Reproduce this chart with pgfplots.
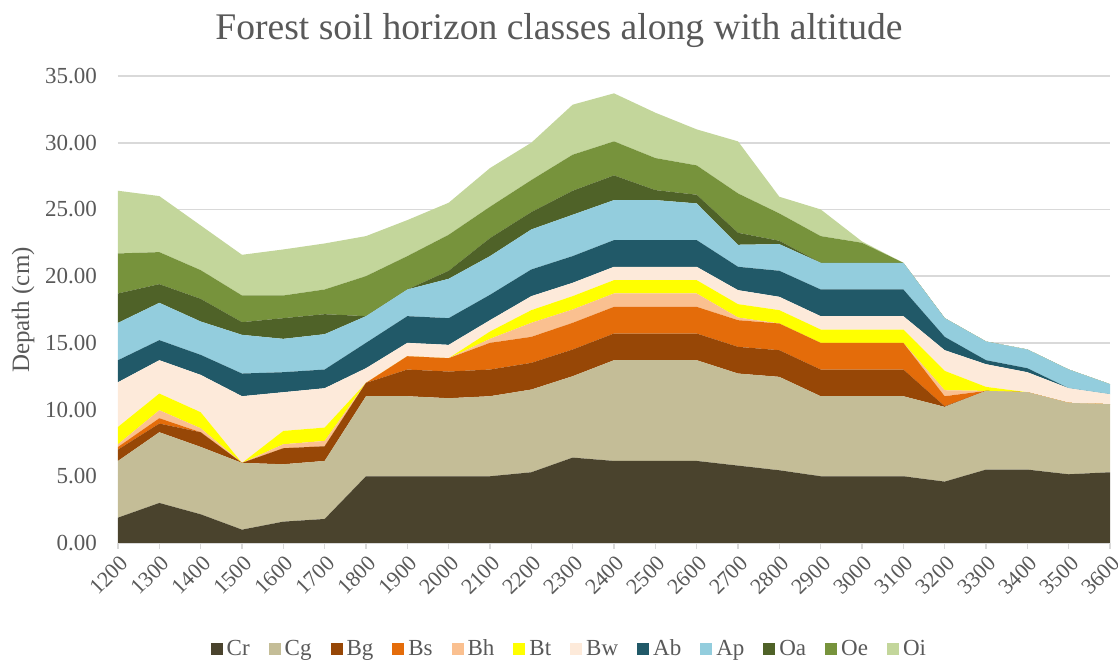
\documentclass[border=0pt]{standalone}
\usepackage{fontspec}
\setmainfont{Liberation Serif}
\usepackage{pgfplots}
\usepackage{pgfplotstable}
\pgfplotsset{compat=1.18}

\definecolor{txt}{HTML}{595959}
\definecolor{gridc}{HTML}{D9D9D9}
\definecolor{cCr}{HTML}{4A432D}
\definecolor{cCg}{HTML}{C4BD97}
\definecolor{cBg}{HTML}{974706}
\definecolor{cBs}{HTML}{E46C0A}
\definecolor{cBh}{HTML}{FAC090}
\definecolor{cBt}{HTML}{FFFF00}
\definecolor{cBw}{HTML}{FDEADA}
\definecolor{cAb}{HTML}{215968}
\definecolor{cAp}{HTML}{93CDDD}
\definecolor{cOa}{HTML}{4F6228}
\definecolor{cOe}{HTML}{77933C}
\definecolor{cOi}{HTML}{C3D69B}

% layer thickness (cm) per altitude, stacked bottom to top
\pgfplotstableread{
alt  Cr   Cg   Bg   Bs   Bh   Bt   Bw   Ab   Ap   Oa   Oe   Oi
1200 1.90 4.25 0.85 0.20 0.20 1.30 3.35 1.65 2.80 2.20 3.00 4.70
1300 3.00 5.30 0.65 0.40 0.60 1.25 2.50 1.50 2.80 1.40 2.40 4.20
1400 2.15 5.05 1.10 0.00 0.30 1.20 2.80 1.50 2.50 1.70 2.15 3.35
1500 1.00 5.00 0.00 0.00 0.00 0.00 5.00 1.70 2.90 0.95 2.00 3.05
1600 1.60 4.30 1.20 0.00 0.30 1.00 2.90 1.50 2.50 1.55 1.70 3.45
1700 1.80 4.35 1.10 0.00 0.40 1.00 2.95 1.40 2.65 1.50 1.85 3.45
1800 5.00 6.00 1.00 0.00 0.00 0.00 1.10 1.90 2.00 0.00 3.00 3.00
1900 5.00 6.00 2.00 1.00 0.00 0.00 1.00 2.00 2.00 0.00 2.50 2.70
2000 5.00 5.85 2.00 1.00 0.00 0.00 1.00 2.00 2.95 0.60 2.70 2.40
2100 5.00 6.00 2.00 2.00 0.30 0.55 0.85 1.90 2.90 1.35 2.35 2.90
2200 5.30 6.20 2.00 1.95 1.05 0.95 1.05 2.00 3.00 1.30 2.40 2.80
2300 6.40 6.10 2.00 2.00 1.00 1.00 1.00 2.00 3.10 1.80 2.70 3.75
2400 6.15 7.55 2.00 2.00 1.00 1.00 1.00 2.00 3.00 1.85 2.55 3.60
2500 6.15 7.55 2.00 2.00 1.00 1.00 1.00 2.00 3.00 0.75 2.40 3.40
2600 6.15 7.55 2.00 2.00 1.00 1.00 1.00 2.00 2.75 0.65 2.20 2.70
2700 5.80 6.90 2.00 2.00 0.20 1.00 1.05 1.75 1.65 0.90 2.95 3.90
2800 5.45 7.00 2.00 2.00 0.00 1.00 1.00 1.95 2.00 0.25 2.05 1.25
2900 5.00 6.00 2.00 2.00 0.00 1.00 1.00 2.00 2.00 0.00 2.00 2.00
3000 5.00 6.00 2.00 2.00 0.00 1.00 1.00 2.00 2.00 0.00 1.50 0.10
3100 5.00 6.00 2.00 2.00 0.00 1.00 1.00 2.00 2.00 0.00 0.00 0.00
3200 4.60 5.60 0.05 0.75 0.45 1.45 1.55 1.00 1.40 0.00 0.00 0.00
3300 5.50 5.90 0.00 0.00 0.00 0.30 1.70 0.30 1.40 0.00 0.00 0.00
3400 5.50 5.80 0.00 0.00 0.00 0.00 1.50 0.30 1.40 0.00 0.00 0.00
3500 5.15 5.35 0.00 0.00 0.00 0.00 1.10 0.00 1.40 0.00 0.00 0.00
3600 5.30 5.10 0.00 0.00 0.00 0.00 0.75 0.00 0.75 0.00 0.00 0.00
}\soildata

\begin{document}
\begin{tikzpicture}
\begin{axis}[
    scale only axis, width=496pt, height=233.5pt,
    xmin=1200, xmax=3600, ymin=0, ymax=35,
    stack plots=y,
    xtick={1200,1300,...,3600},
    ytick={0,5,...,35},
    x tick label style={/pgf/number format/1000 sep=},
    y tick label style={/pgf/number format/fixed, /pgf/number format/fixed zerofill, /pgf/number format/precision=2},
    /pgf/number format/assume math mode=true,
    ymajorgrids, grid style={gridc, line width=0.8pt},
    axis x line*=bottom, axis y line*=left,
    x axis line style={gridc, line width=0.8pt, -},
    y axis line style={draw=none},
    xtick style={gridc, line width=0.8pt}, ytick style={draw=none},
    tick align=outside, major tick length=3pt,
    xticklabel style={rotate=45, anchor=east, font=\fontsize{11}{13}\selectfont, text=txt, xshift=2pt, yshift=-6pt},
    yticklabel style={font=\fontsize{11.5}{13}\selectfont, text=txt, xshift=-4pt},
    legend style={at={(0.456,-0.228)}, anchor=center, draw=none, fill=none,
        legend columns=12, font=\fontsize{11.5}{13}\selectfont, text=txt,
        /tikz/every even column/.append style={column sep=7.5pt}},
    legend image code/.code={\path[#1,draw=none] (0pt,-3pt) rectangle (6pt,3pt);},
    legend cell align=left,
]
\addplot[fill=cCr, draw=none] table[x=alt,y=Cr] {\soildata} \closedcycle;
\addlegendentry{Cr}
\addplot[fill=cCg, draw=none] table[x=alt,y=Cg] {\soildata} \closedcycle;
\addlegendentry{Cg}
\addplot[fill=cBg, draw=none] table[x=alt,y=Bg] {\soildata} \closedcycle;
\addlegendentry{Bg}
\addplot[fill=cBs, draw=none] table[x=alt,y=Bs] {\soildata} \closedcycle;
\addlegendentry{Bs}
\addplot[fill=cBh, draw=none] table[x=alt,y=Bh] {\soildata} \closedcycle;
\addlegendentry{Bh}
\addplot[fill=cBt, draw=none] table[x=alt,y=Bt] {\soildata} \closedcycle;
\addlegendentry{Bt}
\addplot[fill=cBw, draw=none] table[x=alt,y=Bw] {\soildata} \closedcycle;
\addlegendentry{Bw}
\addplot[fill=cAb, draw=none] table[x=alt,y=Ab] {\soildata} \closedcycle;
\addlegendentry{Ab}
\addplot[fill=cAp, draw=none] table[x=alt,y=Ap] {\soildata} \closedcycle;
\addlegendentry{Ap}
\addplot[fill=cOa, draw=none] table[x=alt,y=Oa] {\soildata} \closedcycle;
\addlegendentry{Oa}
\addplot[fill=cOe, draw=none] table[x=alt,y=Oe] {\soildata} \closedcycle;
\addlegendentry{Oe}
\addplot[fill=cOi, draw=none] table[x=alt,y=Oi] {\soildata} \closedcycle;
\addlegendentry{Oi}
\coordinate (O) at (rel axis cs:0,0);
\end{axis}
% page frame and outer texts, measured from the plot's lower left corner
\pgfresetboundingbox
\useasboundingbox ([shift={(-59pt,-59.5pt)}]O) rectangle ([shift={(500pt,271.5pt)}]O);
\node[font=\fontsize{18.8}{22}\selectfont, text=txt] at ([shift={(220.5pt,256pt)}]O) {Forest soil horizon classes along with altitude};
\node[font=\fontsize{12.5}{14}\selectfont, text=txt, rotate=90] at ([shift={(-47.5pt,116.5pt)}]O) {Depath (cm)};
\end{tikzpicture}
\end{document}
